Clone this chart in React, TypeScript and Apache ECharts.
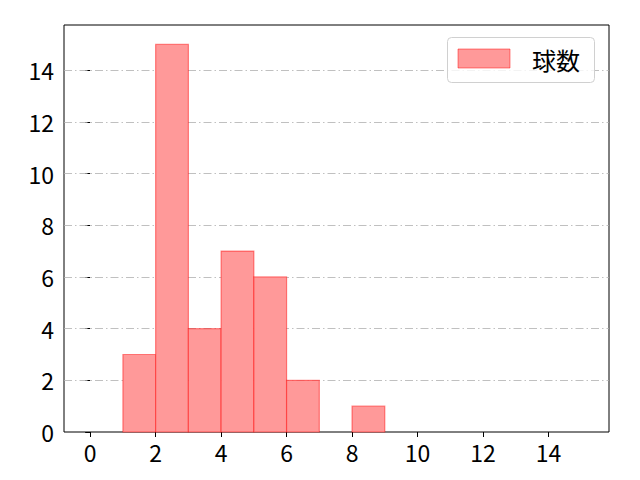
import React, { useEffect, useRef } from "react";
import * as echarts from "echarts";

const binStarts = [1, 2, 3, 4, 5, 6, 8];
const binEnds = [2, 3, 4, 5, 6, 7, 9];
const counts = [3, 15, 4, 7, 6, 2, 1];
const xTicks = [0, 2, 4, 6, 8, 10, 12, 14];
const yTicks = [0, 2, 4, 6, 8, 10, 12, 14];
const gridValues = [2, 4, 6, 8, 10, 12, 14];
const seriesName = "球数";

const FONT = "'Noto Sans CJK JP', 'DejaVu Sans', sans-serif";

export default function App() {
  const ref = useRef<HTMLDivElement>(null);
  useEffect(() => {
    document.body.style.margin = "0";
    const chart = echarts.init(ref.current!, null, { renderer: "svg" });
    const data = binStarts.map((s, i) => [s, binEnds[i], counts[i]]);
    chart.setOption({
      animation: false,
      grid: {
        left: 64,
        right: 31,
        top: 25,
        bottom: 48,
        show: true,
        borderColor: "#000",
        borderWidth: 1,
        backgroundColor: "#fff",
      },
      xAxis: {
        type: "value",
        min: -0.8,
        max: 15.85,
        axisLine: { show: false },
        splitLine: { show: false },
        axisTick: {
          show: true,
          customValues: xTicks,
          length: 5,
          inside: false,
          lineStyle: { color: "#000", width: 1 },
        },
        axisLabel: {
          customValues: xTicks,
          margin: 8,
          color: "#000",
          fontSize: 23,
          fontFamily: FONT,
        },
      },
      yAxis: {
        type: "value",
        min: 0,
        max: 15.75,
        axisLine: { show: false },
        splitLine: { show: false },
        axisTick: {
          show: true,
          customValues: yTicks,
          length: 5,
          inside: false,
          lineStyle: { color: "#000", width: 1 },
        },
        axisLabel: {
          customValues: yTicks,
          margin: 10,
          color: "#000",
          fontSize: 23,
          fontFamily: FONT,
        },
      },
      series: [
        {
          type: "custom",
          name: seriesName,
          data,
          z: 3,
          renderItem: (params: any, api: any) => {
            const x0 = api.value(0);
            const x1 = api.value(1);
            const h = api.value(2);
            const p0 = api.coord([x0, h]);
            const p1 = api.coord([x1, 0]);
            return {
              type: "rect",
              shape: {
                x: p0[0],
                y: p0[1],
                width: p1[0] - p0[0],
                height: p1[1] - p0[1],
              },
              style: {
                fill: "#ff9999",
                stroke: "rgba(255,0,0,0.45)",
                lineWidth: 1.2,
              },
            };
          },
          markLine: {
            silent: true,
            symbol: "none",
            z: 1,
            label: { show: false },
            lineStyle: { color: "#b0b0b0", width: 0.8, type: [8, 3, 1.5, 3] },
            data: gridValues.map((v) => ({ yAxis: v })),
          },
        },
      ],
      graphic: [
        {
          type: "rect",
          z: 10,
          shape: { x: 447.5, y: 37.5, width: 147, height: 45, r: 4 },
          style: { fill: "rgba(255,255,255,0.8)", stroke: "#d0d0d0", lineWidth: 1 },
        },
        {
          type: "rect",
          z: 11,
          shape: { x: 458, y: 49, width: 52, height: 19 },
          style: { fill: "#ff9999", stroke: "rgba(255,0,0,0.45)", lineWidth: 1 },
        },
        {
          type: "text",
          z: 11,
          x: 532,
          y: 59,
          style: {
            text: seriesName,
            fill: "#000",
            fontSize: 24,
            fontFamily: FONT,
            verticalAlign: "middle",
            align: "left",
          },
        },
      ],
    });
    return () => chart.dispose();
  }, []);
  return <div ref={ref} style={{ width: 640, height: 480 }} />;
}
